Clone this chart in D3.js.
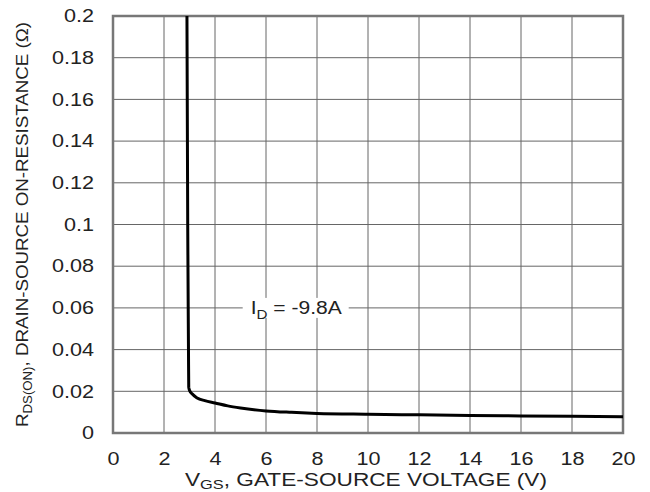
<!DOCTYPE html>
<html>
<head>
<meta charset="utf-8">
<script src="https://cdn.jsdelivr.net/npm/d3@7"></script>
<style>
body { margin: 0; background: #fff; }
text { font-family: "Liberation Sans", Arial, sans-serif; fill: #222; }
</style>
</head>
<body>
<svg id="chart" width="650" height="492"></svg>
<script>
// curve: Vgs (V) vs Rds(on) (ohm)
var vgs  = [2.9, 2.93, 2.96, 2.97, 3.0, 3.1, 3.3, 3.6, 4, 4.5, 5, 6, 7, 8, 10, 12, 14, 16, 18, 20];
var rdson = [0.2, 0.1, 0.04, 0.022, 0.0205, 0.0188, 0.0168, 0.0155, 0.0144, 0.013, 0.012, 0.0106, 0.0099, 0.0094, 0.009, 0.0087, 0.0084, 0.0082, 0.008, 0.0078];
var xTicks = [0, 2, 4, 6, 8, 10, 12, 14, 16, 18, 20];
var yTicks = [0, 0.02, 0.04, 0.06, 0.08, 0.1, 0.12, 0.14, 0.16, 0.18, 0.2];

var margin = {top: 16, right: 27, bottom: 59, left: 113};
var width = 650 - margin.left - margin.right;
var height = 492 - margin.top - margin.bottom;

var svg = d3.select("#chart")
  .append("g")
  .attr("transform", "translate(" + margin.left + "," + margin.top + ")");

var x = d3.scaleLinear().domain([0, 20]).range([0, width]);
var y = d3.scaleLinear().domain([0, 0.2]).range([height, 0]);

// grid
svg.append("g").selectAll("line").data(xTicks).join("line")
  .attr("x1", d => x(d)).attr("x2", d => x(d))
  .attr("y1", 0).attr("y2", height)
  .attr("stroke", "#666").attr("stroke-width", 1);
svg.append("g").selectAll("line").data(yTicks).join("line")
  .attr("x1", 0).attr("x2", width)
  .attr("y1", d => y(d)).attr("y2", d => y(d))
  .attr("stroke", "#666").attr("stroke-width", 1);

// axes (labels only), the source picture is a bit stretched sideways
var xAxis = svg.append("g")
  .attr("transform", "translate(0," + height + ")")
  .call(d3.axisBottom(x).tickValues(xTicks).tickSize(0).tickPadding(0).tickFormat(d3.format("d")));
xAxis.selectAll("text")
  .attr("y", 0).attr("dy", null)
  .attr("transform", "translate(0,32) scale(1.2,1)");
var yAxis = svg.append("g")
  .call(d3.axisLeft(y).tickValues(yTicks).tickSize(0).tickFormat(d => d === 0 ? "0" : String(+d.toFixed(2))));
yAxis.selectAll("text")
  .attr("x", 0)
  .attr("transform", "translate(-19,0) scale(1.2,1)");
[xAxis, yAxis].forEach(a => {
  a.select(".domain").remove();
  a.selectAll("text").style("font-size", "18px").attr("fill", "#222");
});

// frame
svg.append("rect")
  .attr("width", width).attr("height", height)
  .attr("fill", "none").attr("stroke", "#777").attr("stroke-width", 2.5);

// curve
svg.append("path")
  .datum(d3.zip(vgs, rdson))
  .attr("fill", "none")
  .attr("stroke", "#000")
  .attr("stroke-width", 3)
  .attr("d", d3.line().x(d => x(d[0])).y(d => y(d[1])).curve(d3.curveMonotoneX));

// annotation
var ann = svg.append("g").attr("transform", "translate(" + x(5.4) + "," + y(0.06) + ")");
ann.append("rect").attr("x", -8).attr("y", -10).attr("width", 106).attr("height", 20).attr("fill", "#fff");
var at = ann.append("text").attr("y", 6).style("font-size", "18px")
  .attr("textLength", 91).attr("lengthAdjust", "spacingAndGlyphs");
at.append("tspan").text("I");
at.append("tspan").attr("dy", 5).style("font-size", "13px").text("D");
at.append("tspan").attr("dy", -5).text(" = -9.8A");

// x title
var xt = svg.append("text")
  .attr("x", width / 2 - 2).attr("y", height + 53)
  .attr("text-anchor", "middle").style("font-size", "18px")
  .attr("textLength", 362).attr("lengthAdjust", "spacingAndGlyphs");
xt.append("tspan").text("V");
xt.append("tspan").attr("dy", 3).style("font-size", "13px").text("GS");
xt.append("tspan").attr("dy", -3).text(", GATE-SOURCE VOLTAGE (V)");

// y title
var yt = svg.append("text")
  .attr("transform", "translate(" + (-85) + "," + (height / 2) + ") rotate(-90)")
  .attr("text-anchor", "middle").style("font-size", "17px")
  .attr("textLength", 405).attr("lengthAdjust", "spacingAndGlyphs");
yt.append("tspan").text("R");
yt.append("tspan").attr("dy", 4).style("font-size", "12px").text("DS(ON)");
yt.append("tspan").attr("dy", -4).text(", DRAIN-SOURCE ON-RESISTANCE (Ω)");
</script>
</body>
</html>
